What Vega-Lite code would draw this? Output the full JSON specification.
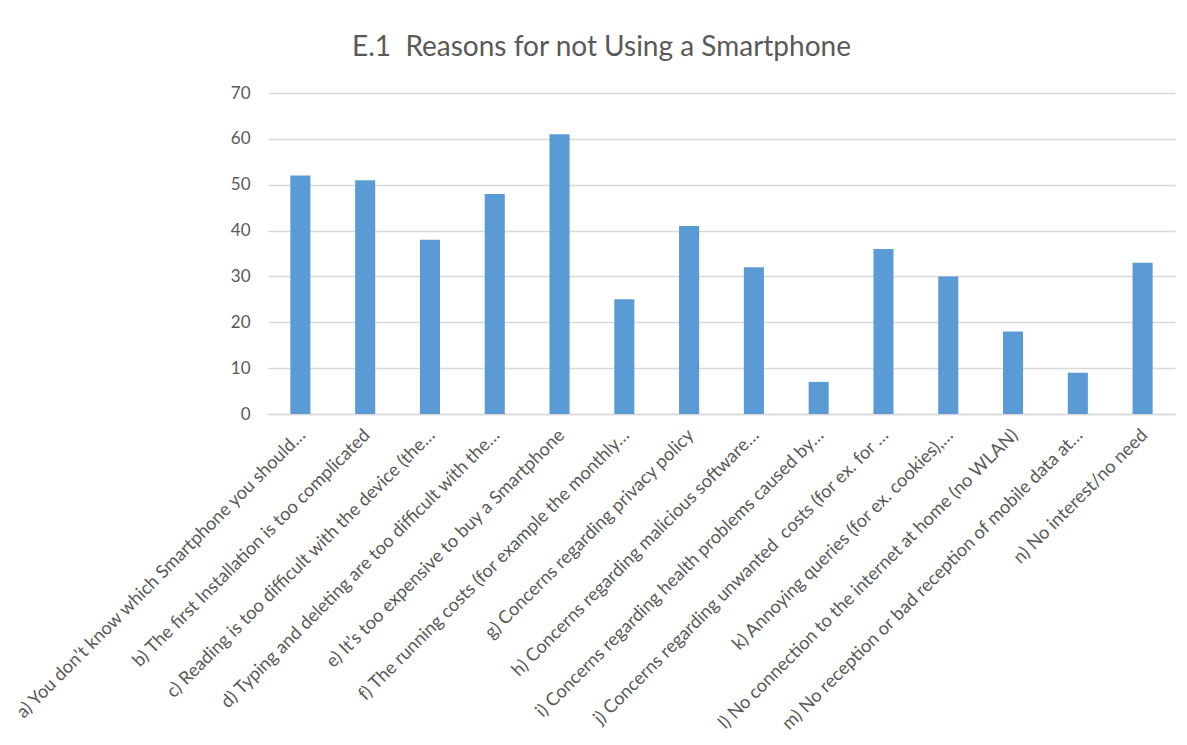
{
  "$schema": "https://vega.github.io/schema/vega-lite/v6.json",
  "autosize": "none",
  "width": 907,
  "height": 321,
  "padding": {"left": 268, "top": 93, "right": 12, "bottom": 331},
  "background": "white",
  "title": {
    "text": "E.1\u00a0 Reasons for not Using a Smartphone",
    "font": "Lato",
    "fontSize": 28,
    "fontWeight": "normal",
    "color": "#595959",
    "anchor": "middle",
    "dx": -120,
    "offset": 22
  },
  "data": {
    "values": [
      {"reason": "a) You don’t know which Smartphone you should…", "count": 52},
      {"reason": "b) The first Installation is too complicated", "count": 51},
      {"reason": "c) Reading is too difficult with the device (the…", "count": 38},
      {"reason": "d) Typing and deleting are too difficult with the…", "count": 48},
      {"reason": "e) It’s too expensive to buy a Smartphone", "count": 61},
      {"reason": "f) The running costs (for example the monthly…", "count": 25},
      {"reason": "g) Concerns regarding privacy policy", "count": 41},
      {"reason": "h) Concerns regarding malicious software…", "count": 32},
      {"reason": "i) Concerns regarding health problems caused by…", "count": 7},
      {"reason": "j) Concerns regarding unwanted\u00a0 costs (for ex. for …", "count": 36},
      {"reason": "k) Annoying queries (for ex. cookies),…", "count": 30},
      {"reason": "l) No connection to the internet at home (no WLAN)", "count": 18},
      {"reason": "m) No reception or bad reception of mobile data at…", "count": 9},
      {"reason": "n) No interest/no need", "count": 33}
    ]
  },
  "mark": {"type": "bar", "color": "#5b9bd5"},
  "encoding": {
    "x": {
      "field": "reason",
      "type": "nominal",
      "sort": null,
      "scale": {"paddingInner": 0.69, "paddingOuter": 0.345},
      "axis": {
        "title": null,
        "labelAngle": -45,
        "labelLimit": 0,
        "labelFont": "Lato",
        "labelFontSize": 18.2,
        "labelColor": "#595959",
        "labelPadding": 12,
        "labelOffset": -4,
        "ticks": false,
        "domain": true,
        "domainColor": "#d9d9d9",
        "domainWidth": 1.5
      }
    },
    "y": {
      "field": "count",
      "type": "quantitative",
      "scale": {"domain": [0, 70], "nice": false},
      "axis": {
        "title": null,
        "values": [0, 10, 20, 30, 40, 50, 60, 70],
        "labelFont": "Lato",
        "labelFontSize": 17,
        "labelColor": "#595959",
        "labelPadding": 18,
        "ticks": false,
        "domain": false,
        "gridColor": "#d9d9d9",
        "gridWidth": 1.3
      }
    }
  },
  "config": {
    "view": {"stroke": null}
  }
}
